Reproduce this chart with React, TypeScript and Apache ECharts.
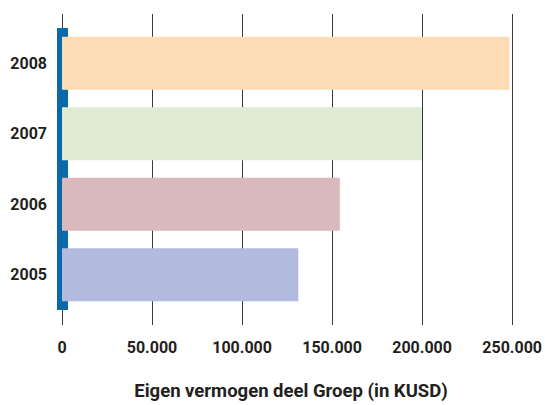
import React, { useEffect, useRef } from "react";
import * as echarts from "echarts";

const years = ["2005", "2006", "2007", "2008"];
const equity = [131000, 154000, 199500, 248000];
const barColors = ["#b3badf", "#d9b9bc", "#dfebd3", "#fddcb5"];
const xTicks = [0, 50000, 100000, 150000, 200000, 250000];
const axisTitle = "Eigen vermogen deel Groep (in KUSD)";

const FONT = "Roboto";

function fmt(v: number): string {
  return String(v).replace(/\B(?=(\d{3})+(?!\d))/g, ".");
}

export default function App() {
  const ref = useRef<HTMLDivElement>(null);
  useEffect(() => {
    if (!ref.current) return;
    const chart = echarts.init(ref.current, null, { renderer: "svg" });
    const max = xTicks[xTicks.length - 1];
    const interval = xTicks[1] - xTicks[0];
    chart.setOption({
      animation: false,
      backgroundColor: "#ffffff",
      grid: [
        { left: 62, right: 32, top: 28, bottom: 95 },
        { left: 62, right: 32, top: 14, bottom: 80 },
      ],
      xAxis: [
        {
          gridIndex: 0,
          type: "value",
          min: 0,
          max,
          interval,
          show: false,
        },
        {
          gridIndex: 1,
          type: "value",
          min: 0,
          max,
          interval,
          z: 0,
          axisLine: { show: false },
          axisTick: { show: false },
          splitLine: { show: true, lineStyle: { color: "#3a3a3a", width: 1 } },
          axisLabel: {
            margin: 14,
            fontFamily: FONT,
            fontWeight: "bold",
            fontSize: 16,
            color: "#231f20",
            formatter: (v: number) => fmt(v),
          },
        },
      ],
      yAxis: [
        {
          gridIndex: 0,
          type: "category",
          data: years,
          z: 1,
          axisLine: { show: true, lineStyle: { color: "#0a69a8", width: 11, cap: "butt" } },
          axisTick: { show: false },
          splitLine: { show: false },
          axisLabel: {
            margin: 15,
            fontFamily: FONT,
            fontWeight: "bold",
            fontSize: 16,
            color: "#231f20",
          },
        },
        {
          gridIndex: 1,
          type: "value",
          show: false,
        },
      ],
      series: [
        {
          type: "bar",
          xAxisIndex: 0,
          yAxisIndex: 0,
          barWidth: 53,
          z: 2,
          data: equity.map((v, i) => ({
            value: v,
            itemStyle: { color: barColors[i] },
          })),
        },
      ],
      graphic: [
        {
          type: "text",
          x: 291,
          y: 391,
          style: {
            text: axisTitle,
            fontFamily: FONT,
            fontWeight: "bold",
            fontSize: 18.5,
            fill: "#231f20",
            align: "center",
            verticalAlign: "middle",
          },
        },
      ],
    });
    return () => chart.dispose();
  }, []);
  return <div ref={ref} style={{ width: 545, height: 405, position: "absolute", left: 0, top: 0 }} />;
}
